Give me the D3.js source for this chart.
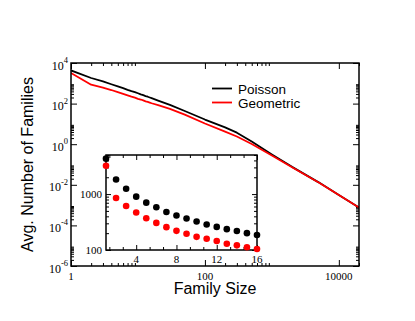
<!DOCTYPE html>
<html><head><meta charset="utf-8">
<script src="https://cdn.jsdelivr.net/npm/d3@7"></script>
<style>body{margin:0;background:#fff}svg{display:block}</style>
</head><body>
<svg id="c" width="415" height="321"></svg>
<script>
// ---- data ----
const familySizes = [1,2,3,4,5,6,7,8,9,10,11,12,13,14,15,16,20,30,50,100,200,300,500,1000,2000,5000,10000,20000];
const poisson   = [4300,1824,1247,899,703,580,479,413,366,323,286,259,236,218,200,185,141,87,43,16.4,6.7,3.7,1.36,0.315,0.0766,0.0132,0.00316,0.00076];
const geometric = [3200,849,612,467,370,305,256,220,195,172,159,145,129,121,112,104,84,55,28.4,10.5,4.2,2.4,1.03,0.28,0.073,0.0131,0.00316,0.00076];
const seriesNames = ["Poisson","Geometric"];
const seriesColors = ["#000000","#ff0000"];
const xMajorTicks = [1,100,10000];
const yMajorTicks = [1e4,1e2,1,1e-2,1e-4,1e-6];
const insetSizes = familySizes.slice(0,16);
const insetPoisson = poisson.slice(0,16);
const insetGeometric = geometric.slice(0,16);
const insetXTicks = [4,8,12,16];
const insetYTicks = [100,1000];

// ---- layout ----
const svg = d3.select('#c');
const P = {l:71, r:359, t:63, b:266};
const x = d3.scaleLog().domain([1,20000]).range([P.l,P.r]);
const y = d3.scaleLog().domain([1e-6,1e4]).range([P.b,P.t]);
const serif = "'Liberation Serif','Times New Roman',serif";
const sans = "'Liberation Sans',Arial,sans-serif";

// minor ticks: m * major for m = 2..9 (grace style)
const xMinor = [];
xMajorTicks.forEach(v=>{for(let m=2;m<=9;m++){const t=v*m; if(t<=20000) xMinor.push(t);}});
const yMinor = [];
yMajorTicks.forEach(v=>{for(let m=2;m<=9;m++){const t=v*m; if(t<=1e4) yMinor.push(t);}});

function addAxis(axis, tx, ty){
  const g = svg.append('g').attr('transform',`translate(${tx},${ty})`).call(axis);
  g.select('.domain').remove();
  g.selectAll('line').attr('stroke','#000').attr('stroke-width',1);
  g.selectAll('text').remove();
  return g;
}
addAxis(d3.axisBottom(x).tickValues(xMajorTicks).tickSize(-6),0,P.b);
addAxis(d3.axisBottom(x).tickValues(xMinor).tickSize(-3),0,P.b);
addAxis(d3.axisTop(x).tickValues(xMajorTicks).tickSize(-6),0,P.t);
addAxis(d3.axisTop(x).tickValues(xMinor).tickSize(-3),0,P.t);
addAxis(d3.axisLeft(y).tickValues(yMajorTicks).tickSize(-6),P.l,0);
addAxis(d3.axisLeft(y).tickValues(yMinor).tickSize(-3),P.l,0);
addAxis(d3.axisRight(y).tickValues(yMajorTicks).tickSize(-6),P.r,0);
addAxis(d3.axisRight(y).tickValues(yMinor).tickSize(-3),P.r,0);

// clip + lines
svg.append('clipPath').attr('id','clip').append('rect')
  .attr('x',P.l).attr('y',P.t).attr('width',P.r-P.l).attr('height',P.b-P.t);
const line = d3.line().x((d,i)=>x(familySizes[i])).y(d=>y(d));
[poisson, geometric].forEach((s,k)=>{
  svg.append('path').attr('d',line(s)).attr('fill','none')
    .attr('stroke',seriesColors[k]).attr('stroke-width',1.8)
    .attr('stroke-linejoin','round').attr('clip-path','url(#clip)');
});

// frame
svg.append('rect').attr('x',P.l).attr('y',P.t).attr('width',P.r-P.l).attr('height',P.b-P.t)
  .attr('fill','none').attr('stroke','#000').attr('stroke-width',1.5);

// tick labels
xMajorTicks.forEach(v=>{
  svg.append('text').attr('x',x(v)).attr('y',279.5).attr('text-anchor','middle')
    .attr('font-family',serif).attr('font-size',11).attr('fill','#000').text(d3.format('d')(v));
});
yMajorTicks.forEach(v=>{
  const e = Math.round(Math.log10(v));
  const t = svg.append('text').attr('x',68).attr('y',y(v)+6.5).attr('text-anchor','end')
    .attr('font-family',serif).attr('font-size',12).attr('fill','#000');
  t.append('tspan').text('10');
  t.append('tspan').attr('dy',-6.5).attr('font-size',8.5).text(e<0?'-'+(-e):e);
});

// axis titles
svg.append('text').attr('x',(P.l+P.r)/2).attr('y',294).attr('text-anchor','middle')
  .attr('font-family',sans).attr('font-size',16).text('Family Size');
svg.append('text').attr('transform',`translate(33,${(P.t+P.b)/2}) rotate(-90)`)
  .attr('text-anchor','middle').attr('font-family',sans).attr('font-size',16)
  .text('Avg. Number of Families');

// legend
seriesNames.forEach((n,k)=>{
  const ly = 88.5 + k*14;
  svg.append('line').attr('x1',212).attr('x2',232).attr('y1',ly).attr('y2',ly)
    .attr('stroke',seriesColors[k]).attr('stroke-width',1.8);
  svg.append('text').attr('x',238).attr('y',ly+5).attr('font-family',sans)
    .attr('font-size',13.5).text(n);
});

// ---- inset ----
const I = {l:106, r:257, t:155, b:250};
const xi = d3.scaleLinear().domain([1,16]).range([I.l,I.r]);
const yi = d3.scaleLog().domain([100,5000]).range([I.b,I.t]);
svg.append('rect').attr('x',I.l).attr('y',I.t).attr('width',I.r-I.l).attr('height',I.b-I.t)
  .attr('fill','#fff');
const insetXMinor = d3.range(4/3,16,4/3).filter(v=>v>=1 && Math.abs(v/4-Math.round(v/4))>1e-6);
const insetYMinor = [];
insetYTicks.forEach(v=>{for(let m=2;m<=9;m++){const t=v*m; if(t<=5000) insetYMinor.push(t);}});
addAxis(d3.axisBottom(xi).tickValues(insetXTicks).tickSize(-5),0,I.b);
addAxis(d3.axisBottom(xi).tickValues(insetXMinor).tickSize(-3),0,I.b);
addAxis(d3.axisTop(xi).tickValues(insetXTicks).tickSize(-5),0,I.t);
addAxis(d3.axisTop(xi).tickValues(insetXMinor).tickSize(-3),0,I.t);
addAxis(d3.axisLeft(yi).tickValues(insetYTicks).tickSize(-5),I.l,0);
addAxis(d3.axisLeft(yi).tickValues(insetYMinor).tickSize(-3),I.l,0);
addAxis(d3.axisRight(yi).tickValues(insetYTicks).tickSize(-5),I.r,0);
addAxis(d3.axisRight(yi).tickValues(insetYMinor).tickSize(-3),I.r,0);
svg.append('rect').attr('x',I.l).attr('y',I.t).attr('width',I.r-I.l).attr('height',I.b-I.t)
  .attr('fill','none').attr('stroke','#000').attr('stroke-width',1.5);
[insetPoisson, insetGeometric].forEach((s,k)=>{
  svg.append('g').selectAll('circle').data(s).join('circle')
    .attr('cx',(d,i)=>xi(insetSizes[i])).attr('cy',d=>yi(d)).attr('r',3.3)
    .attr('fill',seriesColors[k]);
});
insetXTicks.forEach(v=>{
  svg.append('text').attr('x',xi(v)).attr('y',262.5).attr('text-anchor','middle')
    .attr('font-family',serif).attr('font-size',11).text(v);
});
insetYTicks.forEach(v=>{
  svg.append('text').attr('x',102).attr('y',yi(v)+4).attr('text-anchor','end')
    .attr('font-family',serif).attr('font-size',11).text(v);
});
</script>
</body></html>
